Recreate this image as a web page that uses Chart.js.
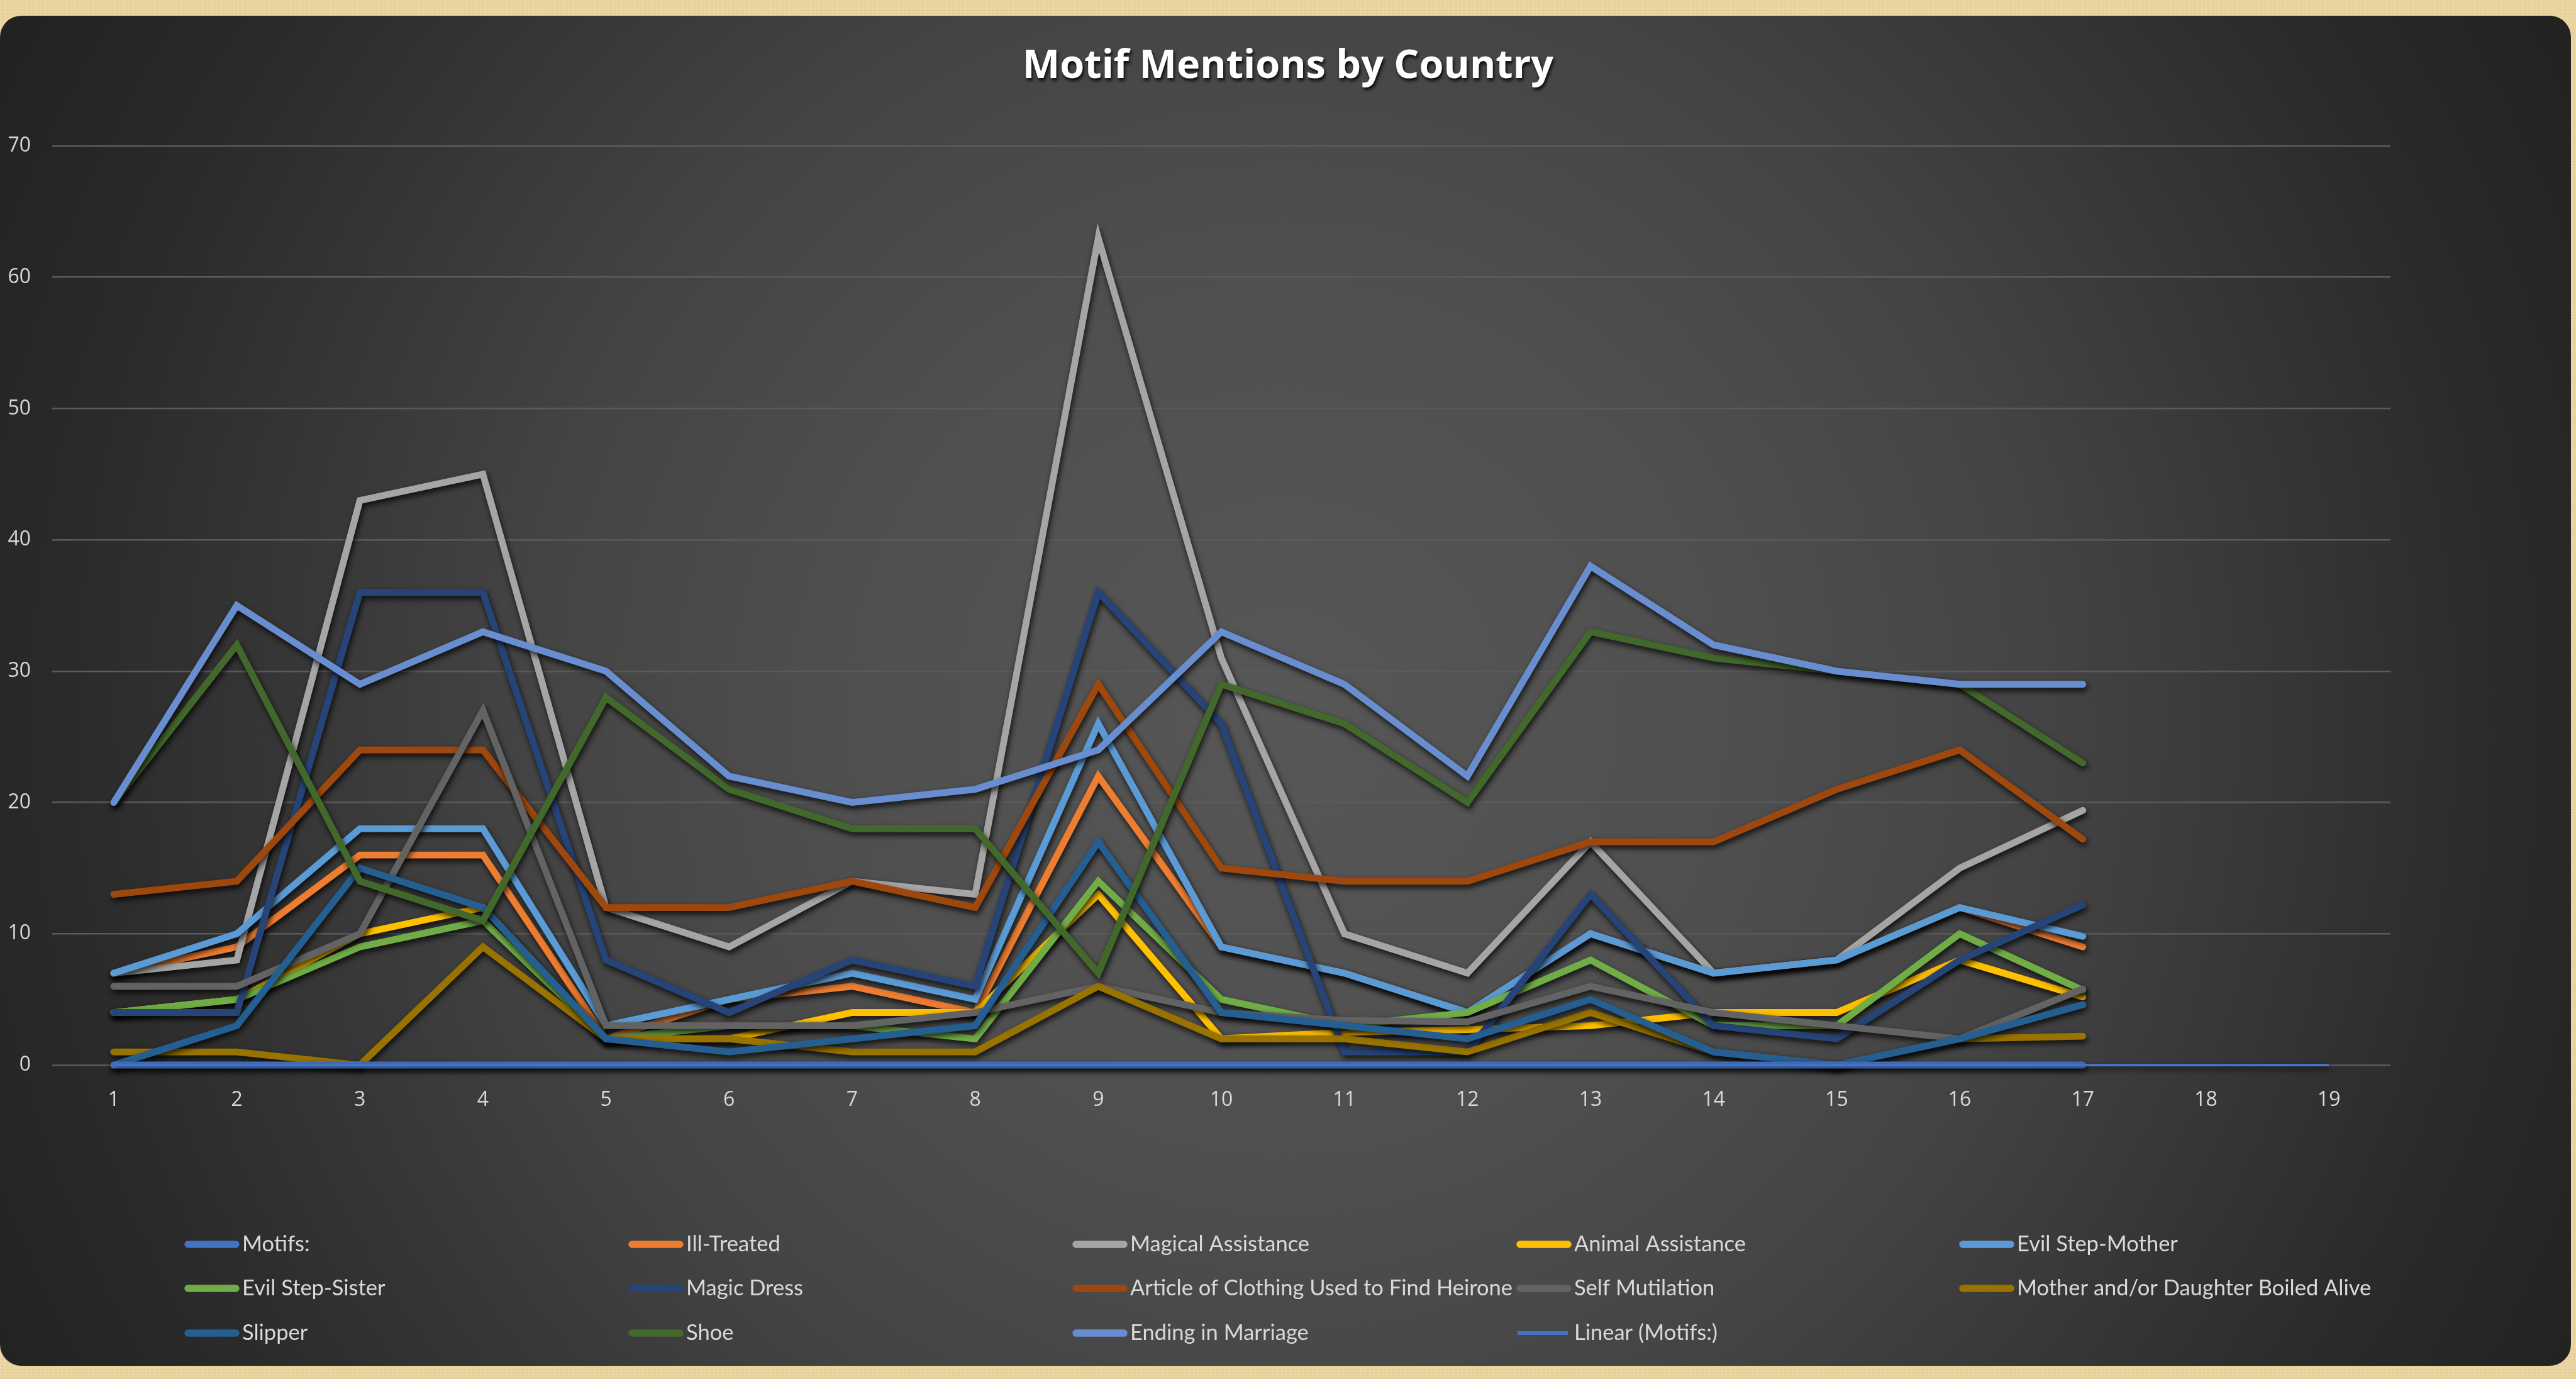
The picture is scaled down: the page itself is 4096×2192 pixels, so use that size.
<!DOCTYPE html>
<html>
<head>
<meta charset="utf-8">
<script src="https://cdn.jsdelivr.net/npm/chart.js@4.4.1/dist/chart.umd.min.js"></script>
<style>
    html, body { margin: 0; padding: 0; }
    body {
        width: 4096px; height: 2192px; overflow: hidden;
        background-color: #e9d49f;
        background-image:
            repeating-linear-gradient(90deg, rgba(255,255,255,0.10) 0 2px, rgba(0,0,0,0) 2px 7px),
            repeating-linear-gradient(0deg, rgba(160,120,40,0.08) 0 1px, rgba(0,0,0,0) 1px 5px);
    }
    #painel {
        position: absolute; left: 0; top: 25px; width: 4088px; height: 2146px;
        border-radius: 34px;
        background: radial-gradient(circle at 50% 52%, #575757 0px, #4f4f4f 700px, #444 1200px, #363636 1600px, #2a2a2a 1950px, #212121 2350px);
    }
    #caixa { position: absolute; left: 0; top: 0; width: 4096px; height: 2192px; }
</style>
</head>
<body>
<div id="painel"></div>
<div id="caixa"><canvas id="graficoMotivos"></canvas></div>
<script>
const paises = ['1', '2', '3', '4', '5', '6', '7', '8', '9', '10', '11', '12', '13', '14', '15', '16', '17', '18', '19'];

const motifs            = [0, 0, 0, 0, 0, 0, 0, 0, 0, 0, 0, 0, 0, 0, 0, 0, 0];
const illTreated        = [7, 9, 16, 16, 2, 5, 6, 4, 22, 9, 7, 4, 10, 7, 8, 12, 9];
const magicalAssistance = [7, 8, 43, 45, 12, 9, 14, 13, 63, 31, 10, 7, 17, 7, 8, 15, 19.4];
const animalAssistance  = [4, 5, 10, 12, 2, 2, 4, 4, 13, 2, 2.5, 2.7, 3, 4, 4, 8, 5.2];
const evilStepMother    = [7, 10, 18, 18, 3, 5, 7, 5, 26, 9, 7, 4, 10, 7, 8, 12, 9.8];
const evilStepSister    = [4, 5, 9, 11, 2, 3, 3, 2, 14, 5, 3, 4, 8, 3, 3, 10, 5.7];
const magicDress        = [4, 4, 36, 36, 8, 4, 8, 6, 36, 26, 1, 1, 13, 3, 2, 8, 12.2];
const articleClothing   = [13, 14, 24, 24, 12, 12, 14, 12, 29, 15, 14, 14, 17, 17, 21, 24, 17.2];
const selfMutilation    = [6, 6, 10, 27, 3, 3, 3, 4, 6, 4, 3.4, 3.3, 6, 4, 3, 2, 5.8];
const boiledAlive       = [1, 1, 0, 9, 2, 2, 1, 1, 6, 2, 2, 1, 4, 1, 0, 2, 2.2];
const slipper           = [0, 3, 15, 12, 2, 1, 2, 3, 17, 4, 3, 2, 5, 1, 0, 2, 4.6];
const shoe              = [20, 32, 14, 11, 28, 21, 18, 18, 7, 29, 26, 20, 33, 31, 30, 29, 23];
const endingMarriage    = [20, 35, 29, 33, 30, 22, 20, 21, 24, 33, 29, 22, 38, 32, 30, 29, 29];
const linearMotifs      = [0, 0, 0, 0, 0, 0, 0, 0, 0, 0, 0, 0, 0, 0, 0, 0, 0, 0, 0];

const valoresEixoY = [0, 10, 20, 30, 40, 50, 60, 70];

window.onload = function () {

    const graficoMotivos = document.getElementById('graficoMotivos');

    function serie(label, data, cor, ordem) {
        return {
            label: label,
            data: data,
            borderColor: cor,
            backgroundColor: cor,
            borderWidth: 10.8,
            borderCapStyle: 'round',
            borderJoinStyle: 'miter',
            pointRadius: 0,
            pointHoverRadius: 0,
            tension: 0,
            fill: false,
            clip: false,
            order: ordem
        };
    }

    // sombra por baixo das linhas, como no Excel
    const sombraLinhas = {
        id: 'sombraLinhas',
        beforeDatasetDraw(chart) {
            const ctx = chart.ctx;
            ctx.save();
            ctx.shadowColor = 'rgba(0, 0, 0, 0.8)';
            ctx.shadowBlur = 10;
            ctx.shadowOffsetX = 2;
            ctx.shadowOffsetY = 5;
        },
        afterDatasetDraw(chart) {
            chart.ctx.restore();
        }
    };

    const tituloELegenda = {
        id: 'tituloELegenda',
        afterDraw(chart) {
            const ctx = chart.ctx;

            ctx.save();
            ctx.font = 'bold 63px "Open Sans"';
            ctx.fillStyle = '#ffffff';
            ctx.textAlign = 'center';
            ctx.textBaseline = 'middle';
            ctx.shadowColor = 'rgba(0, 0, 0, 0.85)';
            ctx.shadowBlur = 5;
            ctx.shadowOffsetX = 2;
            ctx.shadowOffsetY = 4;
            ctx.fillText('Motif Mentions by Country', chart.width / 2, 106);
            ctx.restore();

            const colunas = [293, 999, 1705, 2411, 3115];
            const linhas = [1978, 2048, 2119];
            ctx.save();
            ctx.font = '34.5px Lato';
            ctx.textBaseline = 'middle';
            ctx.textAlign = 'left';
            chart.data.datasets.forEach((ds, i) => {
                const x = colunas[i % 5];
                const y = linhas[Math.floor(i / 5)];
                const tendencia = ds.label.startsWith('Linear');
                ctx.strokeStyle = ds.borderColor;
                ctx.lineWidth = tendencia ? 6 : 11.5;
                ctx.lineCap = tendencia ? 'butt' : 'round';
                ctx.beginPath();
                ctx.moveTo(x + (tendencia ? 2 : 6), y);
                ctx.lineTo(x + 82, y);
                ctx.stroke();
                ctx.fillStyle = '#d9d9d9';
                ctx.fillText(ds.label, x + 92, y);
            });
            ctx.restore();
        }
    };

    function construirGraficoMotivos() {

        const series = [
            serie('Motifs:', motifs, '#4472C4', -1),
            serie('Ill-Treated', illTreated, '#ED7D31', 12),
            serie('Magical Assistance', magicalAssistance, '#A5A5A5', 11),
            serie('Animal Assistance', animalAssistance, '#FFC000', 10),
            serie('Evil Step-Mother', evilStepMother, '#5B9BD5', 9),
            serie('Evil Step-Sister', evilStepSister, '#70AD47', 8),
            serie('Magic Dress', magicDress, '#264478', 7),
            serie('Article of Clothing Used to Find Heirone', articleClothing, '#9E480E', 6),
            serie('Self Mutilation', selfMutilation, '#636363', 5),
            serie('Mother and/or Daughter Boiled Alive', boiledAlive, '#997300', 4),
            serie('Slipper', slipper, '#255E91', 3),
            serie('Shoe', shoe, '#43682B', 2),
            serie('Ending in Marriage', endingMarriage, '#698ED0', 1)
        ];
        const tendencia = serie('Linear (Motifs:)', linearMotifs, '#4472C4', -2);
        tendencia.borderWidth = 4;
        tendencia.borderCapStyle = 'butt';
        series.push(tendencia);

        new Chart(graficoMotivos, {
            type: 'line',
            data: {
                labels: paises,
                datasets: series
            },
            options: {
                responsive: true,
                maintainAspectRatio: false,
                animation: false,
                events: [],
                layout: {
                    padding: { top: 232, right: 295, bottom: 409, left: 0 }
                },
                plugins: {
                    legend: { display: false },
                    title: { display: false },
                    tooltip: { enabled: false }
                },
                scales: {
                    x: {
                        offset: true,
                        grid: { display: false },
                        border: { display: false },
                        ticks: {
                            color: '#d9d9d9',
                            font: { family: 'Open Sans', size: 32 },
                            padding: 29,
                            maxRotation: 0,
                            autoSkip: false
                        },
                        afterFit(scale) { scale.height = 90; }
                    },
                    y: {
                        min: 0,
                        max: 70,
                        afterBuildTicks(scale) {
                            scale.ticks = valoresEixoY.map((v) => ({ value: v }));
                        },
                        grid: { color: '#5a5a5a', lineWidth: 2.5, drawTicks: false },
                        border: { display: false },
                        ticks: {
                            color: '#d9d9d9',
                            font: { family: 'Open Sans', size: 32 },
                            padding: 34
                        },
                        afterFit(scale) { scale.width = 83; }
                    }
                }
            },
            plugins: [sombraLinhas, tituloELegenda]
        });
    }

    construirGraficoMotivos();
}
</script>
</body>
</html>
